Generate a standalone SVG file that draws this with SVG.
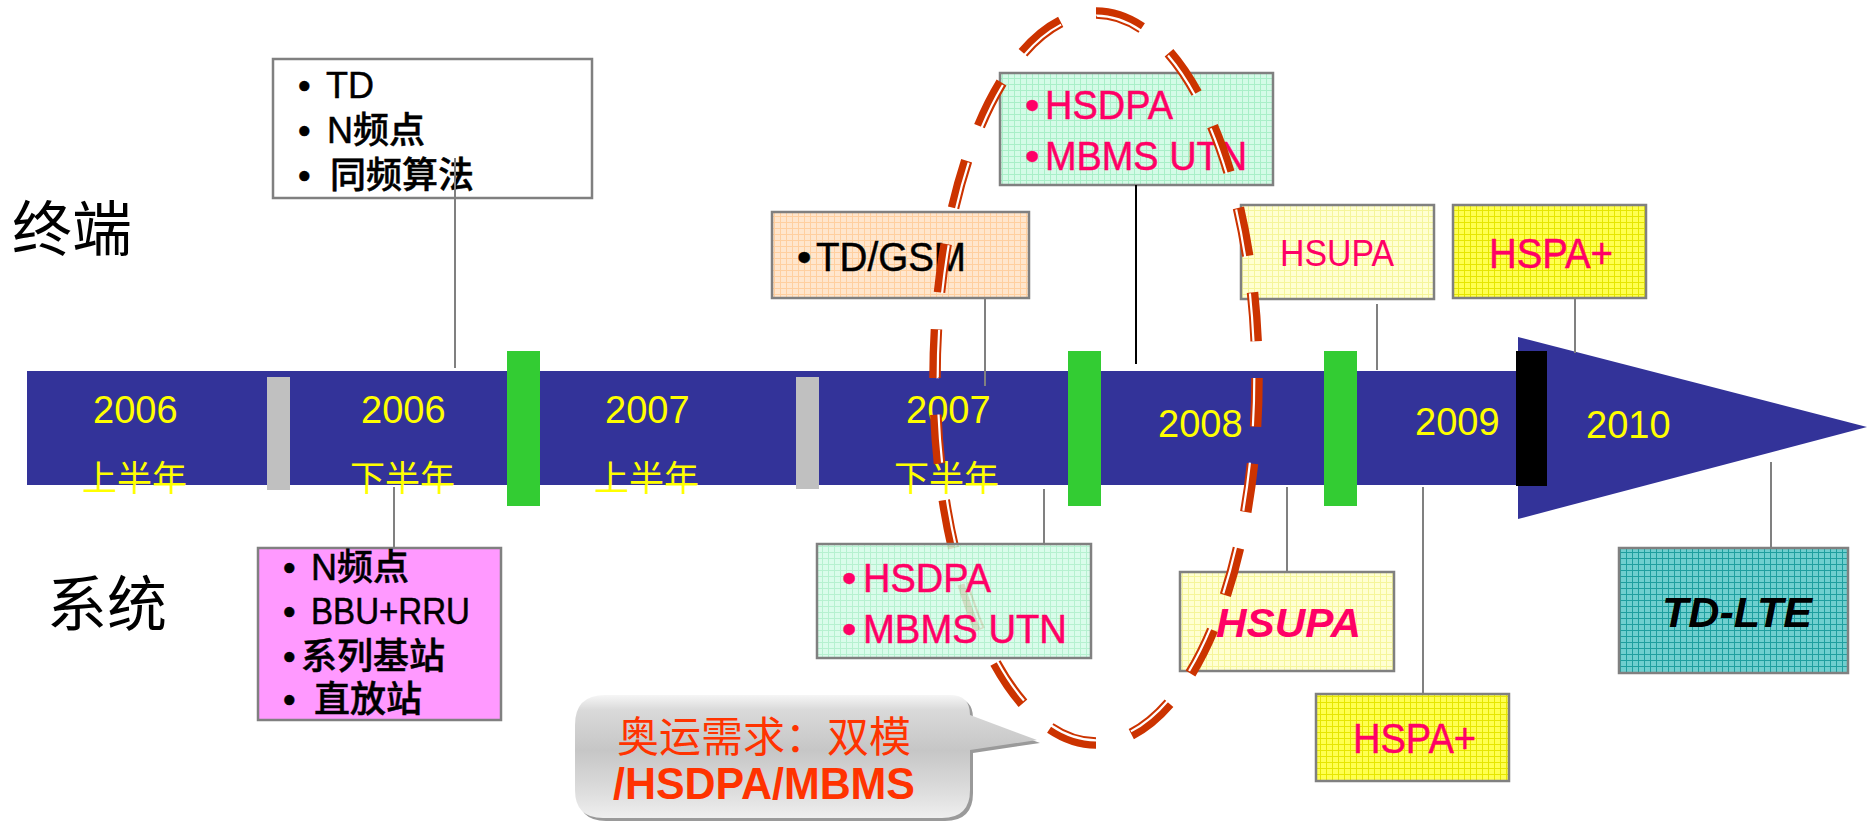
<svg xmlns="http://www.w3.org/2000/svg" width="1867" height="821" viewBox="0 0 1867 821">
  <defs>
    <style>
      .lat { font-family: "Liberation Sans", "Noto Sans CJK SC", sans-serif; }
      .cjk { font-family: "Liberation Sans", "Noto Sans CJK SC", sans-serif; font-weight: 500; }
      .year { font-family: "Liberation Sans", "Noto Sans CJK SC", sans-serif; font-size: 38px; fill: #ffff00; }
      .half { font-family: "Noto Sans CJK SC", sans-serif; font-size: 35px; fill: #ffff00; }
      .side { font-family: "Noto Sans CJK SC", sans-serif; font-size: 60px; fill: #000; }
      .box { stroke: #808080; stroke-width: 2.5; }
      .conn { stroke: #808080; stroke-width: 2; fill: none; }
      .connDark { stroke: #000; stroke-width: 2; fill: none; }
      .blk { font-size: 36px; fill: #000; stroke: #000; stroke-width: 0.5; }
      .pinkTxt { font-size: 41px; fill: #ff0066; stroke: #ff0066; stroke-width: 0.5; }
      .heavy { stroke-width: 0.5; }
      .ring { fill: none; stroke: #cc3300; stroke-width: 11.5; stroke-dasharray: 49 37; }
      .ringGap { fill: none; stroke: #ffffff; stroke-width: 2.2; stroke-dasharray: 49 37; }
    </style>
    <pattern id="gridMint" width="6" height="6" patternUnits="userSpaceOnUse">
      <rect width="6" height="6" fill="#d4fbe7"/>
      <path d="M0 0.5H6M0.5 0V6" stroke="#a9efc8" stroke-width="1"/>
    </pattern>
    <pattern id="gridPeach" width="6" height="6" patternUnits="userSpaceOnUse">
      <rect width="6" height="6" fill="#ffe6cd"/>
      <path d="M0 0.5H6M0.5 0V6" stroke="#ffcf9f" stroke-width="1"/>
    </pattern>
    <pattern id="gridCream" width="6" height="6" patternUnits="userSpaceOnUse">
      <rect width="6" height="6" fill="#ffffd2"/>
      <path d="M0 0.5H6M0.5 0V6" stroke="#f5f59a" stroke-width="1"/>
    </pattern>
    <pattern id="gridYellow" width="6" height="6" patternUnits="userSpaceOnUse">
      <rect width="6" height="6" fill="#ffff50"/>
      <path d="M0 0.5H6M0.5 0V6" stroke="#e6e600" stroke-width="1"/>
    </pattern>
    <pattern id="gridTeal" width="6" height="6" patternUnits="userSpaceOnUse">
      <rect width="6" height="6" fill="#6fcfcf"/>
      <path d="M0 0.5H6M0.5 0V6" stroke="#1f9f9f" stroke-width="1"/>
    </pattern>
    <linearGradient id="bubbleFill" x1="0" y1="0" x2="0" y2="1">
      <stop offset="0" stop-color="#f6f6f6"/>
      <stop offset="0.12" stop-color="#dadada"/>
      <stop offset="0.45" stop-color="#c6c6c6"/>
      <stop offset="0.8" stop-color="#dedede"/>
      <stop offset="1" stop-color="#efefef"/>
    </linearGradient>
  </defs>

  <rect width="1867" height="821" fill="#ffffff"/>

  <!-- row labels -->
  <text class="side" x="12" y="251">终端</text>
  <text class="side" x="47" y="626">系统</text>

  <!-- timeline arrow -->
  <g id="timeline">
    <rect x="27" y="371" width="1493" height="114" fill="#333399"/>
    <polygon points="1518,337 1867,427 1518,519" fill="#333399"/>
    <rect x="267" y="377" width="23" height="113" fill="#c0c0c0"/>
    <rect x="796" y="377" width="23" height="112" fill="#c0c0c0"/>
    <rect x="507" y="351" width="33" height="155" fill="#33cc33"/>
    <rect x="1068" y="351" width="33" height="155" fill="#33cc33"/>
    <rect x="1324" y="351" width="33" height="155" fill="#33cc33"/>
    <rect x="1516" y="351" width="31" height="135" fill="#000000"/>
    <text class="year" x="93" y="423">2006</text>
    <text class="half" x="82" y="491">上半年</text>
    <text class="year" x="361" y="423">2006</text>
    <text class="half" x="350" y="491">下半年</text>
    <text class="year" x="605" y="423">2007</text>
    <text class="half" x="594" y="491">上半年</text>
    <text class="year" x="906" y="423">2007</text>
    <text class="half" x="894" y="491">下半年</text>
    <text class="year" x="1158" y="437">2008</text>
    <text class="year" x="1415" y="435">2009</text>
    <text class="year" x="1586" y="438">2010</text>
  </g>

  <!-- terminal milestones -->
  <g id="node-td">
    <rect class="box" x="273" y="59" width="319" height="139" fill="#ffffff"/>
    <text class="cjk blk" x="298" y="98"><tspan>•</tspan><tspan x="326">TD</tspan></text>
    <text class="cjk blk" x="298" y="143"><tspan>•</tspan><tspan x="327">N频点</tspan></text>
    <text class="cjk blk" x="298" y="188"><tspan>•</tspan><tspan x="330">同频算法</tspan></text>
  </g>

  <g id="node-tdgsm">
    <rect class="box" x="772" y="212" width="257" height="86" fill="url(#gridPeach)"/>
    <text class="lat heavy" x="797" y="271" font-size="41" fill="#000" stroke="#000"><tspan>•</tspan><tspan x="816" textLength="150" lengthAdjust="spacingAndGlyphs">TD/GSM</tspan></text>
  </g>

  <g id="node-hsdpa-term">
    <rect class="box" x="1000" y="73" width="273" height="112" fill="url(#gridMint)"/>
    <text class="lat pinkTxt" x="1025" y="119"><tspan>•</tspan><tspan x="1045" textLength="128" lengthAdjust="spacingAndGlyphs">HSDPA</tspan></text>
    <text class="lat pinkTxt" x="1025" y="170"><tspan>•</tspan><tspan x="1045" textLength="202" lengthAdjust="spacingAndGlyphs">MBMS UTN</tspan></text>
  </g>

  <g id="node-hsupa-term">
    <rect class="box" x="1241" y="205" width="193" height="94" fill="url(#gridCream)"/>
    <text class="lat" x="1280" y="266" font-size="37" fill="#ff0066" textLength="114" lengthAdjust="spacingAndGlyphs">HSUPA</text>
  </g>

  <g id="node-hspaplus-term">
    <rect class="box" x="1453" y="205" width="193" height="93" fill="url(#gridYellow)"/>
    <text class="lat heavy" x="1489" y="268" font-size="42" fill="#ff0066" stroke="#ff0066" textLength="124" lengthAdjust="spacingAndGlyphs">HSPA+</text>
  </g>

  <!-- system milestones -->
  <g id="node-nfreq-sys">
    <rect class="box" x="258" y="548" width="243" height="172" fill="#ff99ff"/>
    <text class="cjk blk" x="283" y="580"><tspan>•</tspan><tspan x="311">N频点</tspan></text>
    <text class="cjk blk" x="283" y="624"><tspan>•</tspan><tspan x="311" textLength="159" lengthAdjust="spacingAndGlyphs">BBU+RRU</tspan></text>
    <text class="cjk blk" x="283" y="669"><tspan>•</tspan><tspan x="301">系列基站</tspan></text>
    <text class="cjk blk" x="283" y="712"><tspan>•</tspan><tspan x="314">直放站</tspan></text>
  </g>

  <g id="node-hsupa-sys">
    <rect class="box" x="1180" y="572" width="214" height="99" fill="url(#gridCream)"/>
    <text class="lat" x="1216" y="637" font-size="41" font-weight="bold" font-style="italic" fill="#ff0066" textLength="145" lengthAdjust="spacingAndGlyphs">HSUPA</text>
  </g>

  <g id="node-hspaplus-sys">
    <rect class="box" x="1316" y="694" width="193" height="87" fill="url(#gridYellow)"/>
    <text class="lat heavy" x="1353" y="753" font-size="42" fill="#ff0066" stroke="#ff0066" textLength="123" lengthAdjust="spacingAndGlyphs">HSPA+</text>
  </g>

  <g id="node-tdlte">
    <rect class="box" x="1619" y="548" width="229" height="125" fill="url(#gridTeal)"/>
    <text class="lat" x="1662" y="627" font-size="42" font-weight="bold" font-style="italic" fill="#000" textLength="150" lengthAdjust="spacingAndGlyphs">TD-LTE</text>
  </g>

  <!-- leader lines from milestones to the timeline -->
  <g id="connectors">
    <line class="conn" x1="455" y1="158" x2="455" y2="368"/>
    <line class="conn" x1="985" y1="298" x2="985" y2="386"/>
    <line class="connDark" x1="1136" y1="185" x2="1136" y2="364"/>
    <line class="conn" x1="1377" y1="304" x2="1377" y2="370"/>
    <line class="conn" x1="1575" y1="298" x2="1575" y2="353"/>
    <line class="conn" x1="394" y1="487" x2="394" y2="548"/>
    <line class="conn" x1="1044" y1="489" x2="1044" y2="544"/>
    <line class="conn" x1="1287" y1="487" x2="1287" y2="572"/>
    <line class="conn" x1="1423" y1="487" x2="1423" y2="694"/>
    <line class="conn" x1="1771" y1="462" x2="1771" y2="548"/>
  </g>

  <!-- speech bubble -->
  <g id="node-callout">
    <path d="M608 698 H953 Q973 698 973 718 L1040 743 L973 753 V793 Q973 821 945 821 H606 Q578 821 578 793 V728 Q578 698 608 698 Z" fill="#9a9a9a"/>
    <path d="M605 695 H950 Q970 695 970 715 L1037 740 L970 750 V790 Q970 818 942 818 H603 Q575 818 575 790 V725 Q575 695 605 695 Z" fill="url(#bubbleFill)"/>
    <text x="617" y="752" font-family="Noto Sans CJK SC, sans-serif" font-size="42" fill="#ff3300">奥运需求：双模</text>
    <text class="lat" x="613" y="799" font-size="44" font-weight="bold" fill="#ff3300" textLength="302" lengthAdjust="spacingAndGlyphs">/HSDPA/MBMS</text>
  </g>

  <!-- dashed double-line ring around the 2007/2008 milestones -->
  <g id="highlight-ring">
    <ellipse class="ring" cx="1096" cy="378" rx="161" ry="365" pathLength="1720"/>
    <ellipse class="ringGap" cx="1096" cy="378" rx="158.3" ry="362.3" pathLength="1720"/>
  </g>

  <g id="node-hsdpa-sys">
    <rect class="box" x="817" y="544" width="274" height="114" fill="url(#gridMint)" fill-opacity="0.85"/>
    <text class="lat pinkTxt" x="842" y="592"><tspan>•</tspan><tspan x="863" textLength="128" lengthAdjust="spacingAndGlyphs">HSDPA</tspan></text>
    <text class="lat pinkTxt" x="842" y="643"><tspan>•</tspan><tspan x="863" textLength="204" lengthAdjust="spacingAndGlyphs">MBMS UTN</tspan></text>
  </g>
</svg>
